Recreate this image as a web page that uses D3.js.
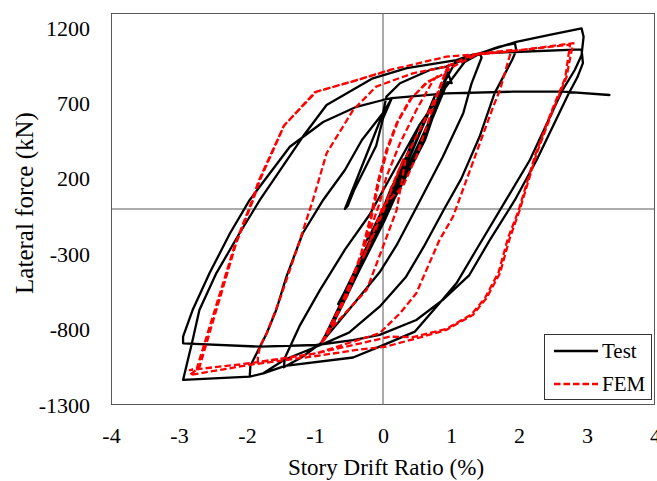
<!DOCTYPE html>
<html><head><meta charset="utf-8">
<script src="https://cdn.jsdelivr.net/npm/d3@7"></script>
<style>body{margin:0;background:#fff}svg{display:block}</style>
</head><body><svg id="c" width="657" height="481"></svg>
<script>
// ---------- data ----------
const xTicks = [-4,-3,-2,-1,0,1,2,3,4];
const yTicks = [-1300,-800,-300,200,700,1200];
const xLabel = "Story Drift Ratio (%)";
const yLabel = "Lateral force (kN)";
const seriesNames = ["Test","FEM"];

// Test: [story drift ratio (%), lateral force (kN)]
const testCurve = [
[0,0],[0.12,140],[0.27,260],[0.22,210],[0.02,-10],[-0.18,-170],[-0.26,-220],[-0.2,-180],[0.02,20],[0.25,250],
[0.54,560],[0.48,500],[0.3,280],[0.02,-30],[-0.25,-260],[-0.46,-493],[-0.43,-480],[-0.2,-270],[0.02,-40],[0.3,250],
[0.77,760],[0.72,690],[0.38,330],[0.1,20],[-0.2,-240],[-0.66,-630],[-0.62,-600],[-0.12,-140],[0.24,160],[0.69,590],
[0.95,908],[1.01,835],[0.95,842],[0.69,560],[0.32,220],[0.02,-80],[-0.34,-400],[-0.71,-740],[-0.91,-889],[-0.85,-840],
[-0.49,-500],[-0.12,-170],[0.24,130],[0.62,460],[0.92,855],[1.08,988],
[1.25,1015],[1.42,1032],[1.45,1005],[1.3,830],[1.18,635],[0.88,347],[0.48,0],[0.2,-240],[-0.05,-420],[-0.45,-640],
[-0.91,-889],[-1.2,-985],[-1.46,-1050],[-1.44,-985],
[-1.22,-770],[-0.93,-540],[-0.56,-270],[-0.2,-40],[0.17,260],[0.54,560],[0.91,800],[1.2,975],[1.42,1030],[1.7,1075],
[1.94,1099],[1.96,1052],
[1.9,990],[1.64,767],[1.42,479],[1.15,200],[0.9,0],[0.6,-250],[0.34,-449],[-0.05,-648],[-0.5,-820],[-0.91,-900],
[-1.45,-1000],[-1.76,-1090],[-1.96,-1112],
[-1.95,-1040],[-1.81,-913],[-1.71,-824],[-1.57,-670],[-1.42,-449],[-1.18,-161],[-0.88,60],[-0.56,259],[-0.31,458],
[0,637],[0.05,745],[0.25,834],[0.69,922],[0.93,944],[1.42,1032],[1.96,1109],[2.45,1155],[2.92,1198],
[2.95,1143],[2.92,1020],[2.82,922],[2.64,789],[2.16,325],[1.81,60],[1.37,-272],[1.08,-493],[0.83,-625],[0.47,-813],
[-0.05,-913],[-0.44,-985],[-1.44,-1040],[-1.76,-1090],[-1.96,-1112],[-2.94,-1134],
[-2.87,-1001],[-2.81,-891],[-2.7,-670],[-2.45,-425],[-2.11,-161],[-1.81,60],[-1.18,479],[-0.83,690],[-0.15,867],
[0.35,935],[1.08,988],[1.42,1032],[2.92,1059],
[2.94,968],[2.86,875],[2.72,756],[2.26,325],[1.94,60],[1.57,-206],[1.27,-438],[0.88,-603],[0.49,-736],[-0.05,-835],
[-0.44,-870],[-0.98,-902],[-1.81,-913],[-2.94,-891],
[-2.94,-847],[-2.8,-670],[-2.55,-425],[-2.25,-161],[-1.96,60],[-1.37,413],[-0.88,577],[-0.39,678],[0,723],[0.13,736],
[0,635],[-0.56,0],[-0.52,20],[-0.42,130],[-0.1,420],[0,600],[0.13,736],
[0.93,767],[1.91,778],[2.65,778],[3.33,756]
];

// FEM: [story drift ratio (%), lateral force (kN)]
const femCurve = [
[0,0],[0.15,170],[0.3,330],[0.22,240],[0,-20],[-0.15,-180],[-0.3,-330],[-0.22,-250],[0,20],
[0.29,148],[0.49,347],[0.74,678],[0.88,855],[0.98,968],[0.93,922],[0.78,745],[0.59,568],[0.34,347],[0.2,-7],
[0,-250],[-0.24,-537],[-0.74,-780],[-0.91,-891],
[-0.86,-865],[-0.54,-582],[-0.32,-292],[-0.17,-27],[-0.07,192],[0.05,391],[0.2,568],[0.39,723],[0.64,834],[0.8,880],
[0.74,855],[0.49,656],[0.25,436],[0.05,214],[-0.05,38],[-0.3,-280],[-0.6,-620],[-0.91,-891],
[-0.86,-860],[-0.52,-570],[-0.3,-280],[-0.15,-20],[-0.05,200],[0.07,400],[0.22,580],[0.42,735],[0.64,840],[0.83,880],
[1.03,944],[1.4,1030],[1.89,1054],
[1.86,1010],[1.72,789],[1.62,678],[1.37,369],[1.03,-51],[0.83,-206],[0.49,-559],[0.25,-692],[-0.05,-824],[-0.98,-957],
[-1.84,-1018],
[-1.84,-981],[-1.81,-913],[-1.71,-824],[-1.52,-603],[-1.27,-272],[-1.03,60],[-0.83,369],[-0.44,656],[-0.1,812],
[0.1,845],[0.44,900],[0.93,944],[1.3,1020],[1.81,1043],[2.3,1070],[2.8,1100],
[2.76,1020],[2.7,877],[2.5,656],[2.26,369],[2.01,-7],[1.86,-200],[1.72,-426],[1.52,-592],[1.32,-703],[0.93,-802],
[0.59,-846],[0.05,-912],[-0.39,-935],[-0.98,-975],[-1.96,-1034],[-2.84,-1101],
[-2.7,-1050],[-2.16,-228],[-1.91,60],[-1.81,192],[-1.45,557],[-0.98,778],[-0.39,855],[0.1,922],[0.93,1010],
[1.81,1043],[2.75,1090],
[2.68,870],[2.48,650],[2.24,360],[1.99,-15],[1.84,-190],[1.7,-420],[1.5,-590],[1.3,-700],[0.93,-795],[0.44,-850],
[0.1,-847],[-0.98,-957],[-1.96,-1023],[-2.84,-1068],
[-2.74,-1060],[-2.18,-240],[-1.93,50],[-1.83,185],[-1.46,550],[-1.0,775],[-0.4,852],[0.1,920]
];

// ---------- drawing ----------
const svg = d3.select("#c");
const font = "'Liberation Serif','Times New Roman',serif";
const L = 111, R = 655, T = 13, B = 405;
const x = d3.scaleLinear().domain([-4,4]).range([L,R]);
const y = d3.scaleLinear().domain([-1300,1300]).range([B,T]);

// zero lines
svg.append("line").attr("x1",x(0)).attr("x2",x(0)).attr("y1",T).attr("y2",B)
  .attr("stroke","#595959").attr("stroke-width",1);
svg.append("line").attr("x1",L).attr("x2",R).attr("y1",y(0)).attr("y2",y(0))
  .attr("stroke","#595959").attr("stroke-width",1);

const line = d3.line().x(d=>x(d[0])).y(d=>y(d[1]));

svg.append("path").datum(testCurve).attr("d",line).attr("fill","none")
  .attr("stroke","#000").attr("stroke-width",2.3).attr("stroke-linejoin","round").attr("stroke-linecap","round");
svg.append("path").datum(femCurve).attr("d",line).attr("fill","none")
  .attr("stroke","#ff0000").attr("stroke-width",2.3).attr("stroke-dasharray","6.5,3")
  .attr("stroke-linejoin","round");

// frame
svg.append("rect").attr("x",L+0.5).attr("y",T+0.5).attr("width",R-L-1).attr("height",B-T-1)
  .attr("fill","none").attr("stroke","#595959").attr("stroke-width",1);

// axes
const ax = svg.append("g").attr("transform",`translate(0,${B})`)
  .call(d3.axisBottom(x).tickValues(xTicks).tickSize(0).tickPadding(22).tickFormat(d=>String(d)));
const ay = svg.append("g").attr("transform",`translate(${L},0)`)
  .call(d3.axisLeft(y).tickValues(yTicks).tickSize(0).tickPadding(21).tickFormat(d=>String(d)));
[ax,ay].forEach(g=>{
  g.select(".domain").remove();
  g.selectAll("text").attr("font-family",font).attr("font-size",22).attr("fill","#000");
});

// titles
svg.append("text").attr("x",386).attr("y",475).attr("text-anchor","middle")
  .attr("font-family",font).attr("font-size",23).text(xLabel);
svg.append("text").attr("transform","translate(33,203) rotate(-90)").attr("text-anchor","middle")
  .attr("font-family",font).attr("font-size",25).text(yLabel);

// legend
const lg = svg.append("g");
lg.append("rect").attr("x",544.5).attr("y",334.5).attr("width",107).attr("height",65)
  .attr("fill","#fff").attr("stroke","#333").attr("stroke-width",1);
const items = [{name:seriesNames[0],c:"#000",dash:null,y:351},{name:seriesNames[1],c:"#ff0000",dash:"6.5,3",y:384}];
items.forEach(it=>{
  lg.append("line").attr("x1",554).attr("x2",598).attr("y1",it.y).attr("y2",it.y)
    .attr("stroke",it.c).attr("stroke-width",2.3).attr("stroke-dasharray",it.dash);
  lg.append("text").attr("x",602).attr("y",it.y+7).attr("font-family",font).attr("font-size",21)
    .text(it.name);
});
</script></body></html>
